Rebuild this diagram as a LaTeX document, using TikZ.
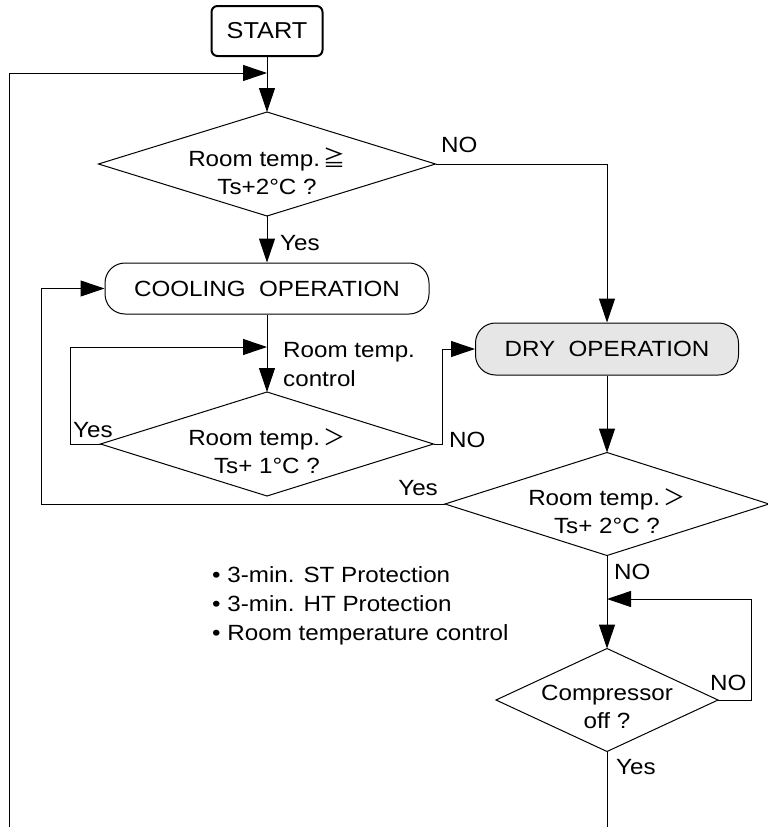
\documentclass[tikz,border=0pt]{standalone}
\usepackage{fontspec}
\setmainfont{Liberation Sans}[FakeStretch=1.1]
\newfontfamily\jpfont{Noto Sans CJK JP}
\usepackage{tikz}
\usetikzlibrary{arrows.meta,shapes.geometric}
\definecolor{dryfill}{HTML}{E6E6E6}
\tikzset{
  term/.style={draw,line width=2pt,rounded corners=6pt,minimum width=111pt,minimum height=50pt,inner sep=0pt,font=\fontsize{23}{28}\selectfont},
  oper/.style={draw,line width=1pt,rounded corners=20pt,minimum height=51pt,inner sep=0pt,font=\fontsize{22}{28}\selectfont},
  dec/.style={diamond,draw,line width=1pt,inner sep=0pt,outer sep=0pt,minimum height=104pt},
  dtxt/.style={align=center,yshift=-7pt,inner sep=0pt,font=\fontsize{22}{28}\selectfont},
  note/.style={font=\fontsize{22}{29}\selectfont,inner sep=0pt},
  arr/.style={-{Triangle[length=24pt,width=16pt]},line width=1pt},
  ln/.style={line width=1pt},
}
\begin{document}
\begin{tikzpicture}[x=1pt,y=-1pt]
\useasboundingbox (0,0) rectangle (768,827);
\node[term] (start) at (267,31) {START};
\node[dec,minimum width=337pt,label={[dtxt]center:{Room temp.\,{\jpfont ≧}\\Ts+2°C ?}}] (d1) at (267,164) {};
\node[oper,minimum width=324pt] (cool) at (267,288.5) {COOLING\ \ OPERATION};
\node[dec,minimum width=333pt,label={[dtxt]center:{Room temp.\,{\jpfont ＞}\\Ts+ 1°C ?}}] (d2) at (267,444) {};
\node[oper,fill=dryfill,minimum width=263pt,minimum height=52pt] (dry) at (607,349) {DRY\ \ OPERATION};
\node[dec,minimum width=324pt,minimum height=103pt,label={[dtxt]center:{Room temp.\,{\jpfont ＞}\\Ts+ 2°C ?}}] (d3) at (607,504) {};
\node[dec,minimum width=222pt,minimum height=103pt,label={[dtxt]center:{Compressor\\off ?}}] (comp) at (607,700) {};
\node[note,anchor=west] (no1) at (441,145) {NO};
\node[note,anchor=west] (yes1) at (280,243) {Yes};
\node[note,anchor=west,align=left] (rtc) at (283,365) {Room temp.\\control};
\node[note,anchor=west] (yes2) at (73,430) {Yes};
\node[note,anchor=west] (no2) at (449,440) {NO};
\node[note,anchor=east] (yes3) at (438,488) {Yes};
\node[note,anchor=west] (no3) at (614,572) {NO};
\node[note,anchor=west] (no4) at (710,683) {NO};
\node[note,anchor=west] (yes4) at (616,767) {Yes};
\node[note,anchor=west,align=left] (prot) at (212,606) {• 3-min. ST Protection\\• 3-min. HT Protection\\• Room temperature control};
\coordinate (lb) at (9,827);
\coordinate (j1) at (267,73);
\coordinate (j2) at (267,347);
\coordinate (j3) at (607,599);
\coordinate (cb) at (607,827);
\draw[arr] (start) -- (d1);
\draw[arr] (lb) |- (j1);
\draw[arr] (d1.east) -| (dry.north);
\draw[arr] (d1) -- (cool);
\draw[arr] (cool) -- (d2);
\draw[arr] (d2.west) -- ++(-30,0) |- (j2);
\draw[arr] (d2.east) -- ++(9,0) |- (dry.west);
\draw[arr] (dry) -- (d3);
\draw[arr] (d3.west) -- ++(-404,0) |- (cool.west);
\draw[arr] (d3) -- (comp);
\draw[arr] (comp.east) -- ++(33,0) |- (j3);
\draw[ln] (comp) -- (cb);
\end{tikzpicture}
\end{document}
